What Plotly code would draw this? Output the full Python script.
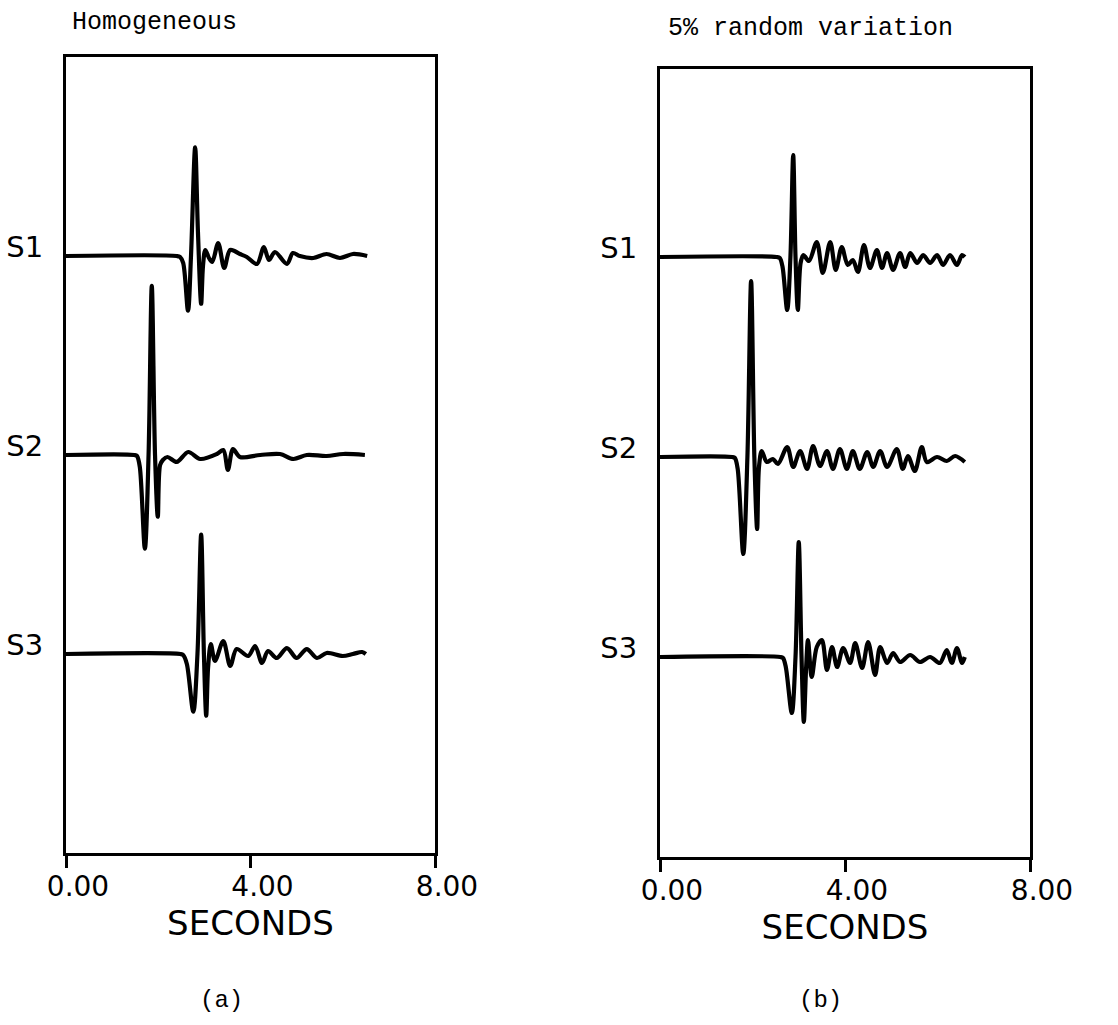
import plotly.graph_objects as go

# ---------------- data ----------------
STATIONS = ["S1", "S2", "S3"]
OFFSETS = [0, -1, -2]
X_TICKS = [0, 4, 8]
X_TICK_TEXT = ["0.00", "4.00", "8.00"]
PANEL_TITLES = ["Homogeneous", "5% random variation"]
PANEL_TAGS = ["(a)", "(b)"]
X_TITLE = "SECONDS"

# panel (a): homogeneous medium
HOM_S1_T = [0, 2.40, 2.47, 2.54, 2.645, 2.71, 2.80, 2.86, 2.93, 2.97, 3.02, 3.10, 3.17, 3.30, 3.43,
            3.56, 3.77, 3.92, 4.14, 4.29, 4.40, 4.53, 4.79, 4.92, 5.07, 5.36, 5.65, 5.94, 6.22, 6.53]
HOM_S1_A = [0, 0, -0.005, -0.035, -0.275, 0, 0.546, 0.125, -0.24, -0.05, 0.03, -0.01, -0.03, 0.065, -0.06,
            0.03, 0.01, -0.005, -0.04, 0.045, -0.02, 0.02, -0.04, 0.015, 0, -0.01, 0.01, -0.01, 0.01, 0]

HOM_S2_T = [0, 1.48, 1.54, 1.60, 1.71, 1.79, 1.86, 1.93, 1.99, 2.04, 2.10, 2.20, 2.40, 2.65, 2.91,
            3.27, 3.41, 3.51, 3.62, 3.77, 4.21, 4.64, 4.93, 5.22, 5.65, 6.01, 6.48]
HOM_S2_A = [0, 0, -0.005, -0.06, -0.47, 0, 0.85, 0, -0.31, -0.05, -0.025, -0.01, -0.035, 0.015, -0.02,
            0.005, 0.025, -0.075, 0.03, -0.01, 0, 0.005, -0.02, 0, -0.005, 0.005, 0]

HOM_S3_T = [0, 2.48, 2.54, 2.62, 2.76, 2.85, 2.93, 2.99, 3.04, 3.08, 3.14, 3.23, 3.41, 3.56, 3.70,
            3.95, 4.10, 4.25, 4.38, 4.57, 4.79, 5.00, 5.22, 5.44, 5.65, 6.00, 6.22, 6.42, 6.50]
HOM_S3_A = [0, 0, -0.005, -0.05, -0.29, 0, 0.60, 0, -0.31, -0.07, 0.05, -0.035, 0.065, -0.06, 0.025,
            -0.01, 0.04, -0.045, 0.015, -0.02, 0.03, -0.02, 0.025, -0.02, 0.005, -0.01, 0, 0.01, 0]

# panel (b): 5% random variation
RND_S1_T = [0, 2.52, 2.59, 2.65, 2.75, 2.82, 2.88, 2.93, 2.98, 3.04, 3.10, 3.22, 3.39, 3.52, 3.68,
            3.80, 3.93, 4.06, 4.17, 4.28, 4.41, 4.54, 4.69, 4.80, 4.91, 5.04, 5.19, 5.30, 5.41, 5.56,
            5.69, 5.84, 5.99, 6.12, 6.27, 6.42, 6.53, 6.59]
RND_S1_A = [0, 0, -0.005, -0.05, -0.265, 0, 0.51, 0, -0.265, -0.03, 0.01, -0.02, 0.075, -0.08, 0.075,
            -0.065, 0.05, -0.04, -0.015, -0.075, 0.06, -0.055, 0.035, -0.055, 0.02, -0.065, 0.02, -0.05,
            0.02, -0.03, 0.01, -0.03, 0.01, -0.04, 0.01, -0.04, 0.01, 0]

RND_S2_T = [0, 1.56, 1.62, 1.68, 1.80, 1.89, 1.97, 2.04, 2.10, 2.14, 2.20, 2.31, 2.44, 2.55, 2.75,
            2.88, 3.03, 3.18, 3.31, 3.46, 3.61, 3.74, 3.89, 4.04, 4.17, 4.32, 4.48, 4.61, 4.76, 4.91,
            5.12, 5.25, 5.36, 5.51, 5.66, 5.77, 5.99, 6.20, 6.38, 6.59]
RND_S2_A = [0, 0, -0.005, -0.06, -0.485, 0, 0.88, 0, -0.36, -0.05, 0.03, -0.025, -0.01, -0.035, 0.05,
            -0.05, 0.03, -0.06, 0.055, -0.045, 0.03, -0.06, 0.04, -0.06, 0.03, -0.06, 0.025, -0.05, 0.03,
            -0.05, 0.04, -0.06, 0.005, -0.07, 0.05, -0.025, 0, -0.02, 0.005, -0.025]

RND_S3_T = [0, 2.60, 2.66, 2.72, 2.85, 2.93, 3.00, 3.06, 3.11, 3.16, 3.20, 3.28, 3.39, 3.50, 3.61,
            3.72, 3.83, 3.96, 4.11, 4.22, 4.37, 4.50, 4.65, 4.76, 4.91, 5.04, 5.19, 5.41, 5.62, 5.84,
            6.05, 6.20, 6.31, 6.42, 6.53, 6.59]
RND_S3_A = [0, 0, -0.005, -0.05, -0.28, 0, 0.575, 0, -0.325, -0.05, 0.085, -0.1, 0.05, 0.085, -0.065,
            0.05, -0.05, 0.045, -0.03, 0.07, -0.055, 0.075, -0.09, 0.05, -0.03, 0.02, -0.025, 0.01,
            -0.025, 0, -0.03, 0.035, -0.03, 0.045, -0.03, 0]

PANELS = [
    [(HOM_S1_T, HOM_S1_A), (HOM_S2_T, HOM_S2_A), (HOM_S3_T, HOM_S3_A)],
    [(RND_S1_T, RND_S1_A), (RND_S2_T, RND_S2_A), (RND_S3_T, RND_S3_A)],
]

# ---------------- figure ----------------
W, H = 1118, 1025
fig = go.Figure()

# pixel geometry of each panel box: (left, right, top, bottom)
BOXES = [(66, 435, 57, 853), (660, 1030, 69, 857)]
YRANGES = [[-3.0, 1.0], [-3.0, 0.94]]

AXFONT = "DejaVu Sans"
for p, traces in enumerate(PANELS):
    xa = "x" if p == 0 else "x2"
    ya = "y" if p == 0 else "y2"
    for (t, a), off in zip(traces, OFFSETS):
        fig.add_trace(go.Scatter(
            x=t, y=[off + v for v in a], mode="lines",
            line=dict(color="black", width=4.2, shape="spline", smoothing=0.9),
            xaxis=xa, yaxis=ya, showlegend=False, hoverinfo="skip"))

    l, r, tp, bt = BOXES[p]
    xkey = "xaxis" if p == 0 else "xaxis2"
    ykey = "yaxis" if p == 0 else "yaxis2"
    fig.update_layout(**{
        xkey: dict(
            domain=[l / W, r / W], range=[0, 8], anchor=ya, automargin=False,
            showline=True, mirror=True, linecolor="black", linewidth=3,
            showgrid=False, zeroline=False,
            ticks="outside", ticklen=12, tickwidth=3, tickcolor="black",
            tickvals=X_TICKS, ticktext=X_TICK_TEXT, ticklabelshift=12, ticklabelstandoff=-6,
            tickfont=dict(family=AXFONT, size=28, color="black"),
            title=dict(text=X_TITLE, font=dict(family=AXFONT, size=34, color="black"), standoff=4),
        ),
        ykey: dict(
            domain=[1 - bt / H, 1 - tp / H], range=YRANGES[p], anchor=xa, automargin=False,
            showline=True, mirror=True, linecolor="black", linewidth=3,
            showgrid=False, zeroline=False, ticks="",
            tickvals=OFFSETS, ticktext=STATIONS, ticklabelshift=-9, ticklabelstandoff=14,
            tickfont=dict(family=AXFONT, size=29, color="black"),
        ),
    })

# panel titles and tags
TITLE_POS = [(70, 22), (666, 28)]
TAG_POS = [(221, 1000), (820, 1000)]
for p in range(2):
    fig.add_annotation(text=PANEL_TITLES[p], xref="paper", yref="paper",
                       x=TITLE_POS[p][0] / W, y=1 - TITLE_POS[p][1] / H,
                       xanchor="left", yanchor="middle", showarrow=False,
                       font=dict(family="Liberation Mono", size=25, color="black"))
    fig.add_annotation(text=PANEL_TAGS[p], xref="paper", yref="paper",
                       x=TAG_POS[p][0] / W, y=1 - TAG_POS[p][1] / H,
                       xanchor="center", yanchor="middle", showarrow=False,
                       font=dict(family="Liberation Mono", size=24, color="black"))

fig.update_layout(width=W, height=H, margin=dict(l=0, r=0, t=0, b=0, autoexpand=False),
                  paper_bgcolor="white", plot_bgcolor="white")

fig.write_html("out.html")
